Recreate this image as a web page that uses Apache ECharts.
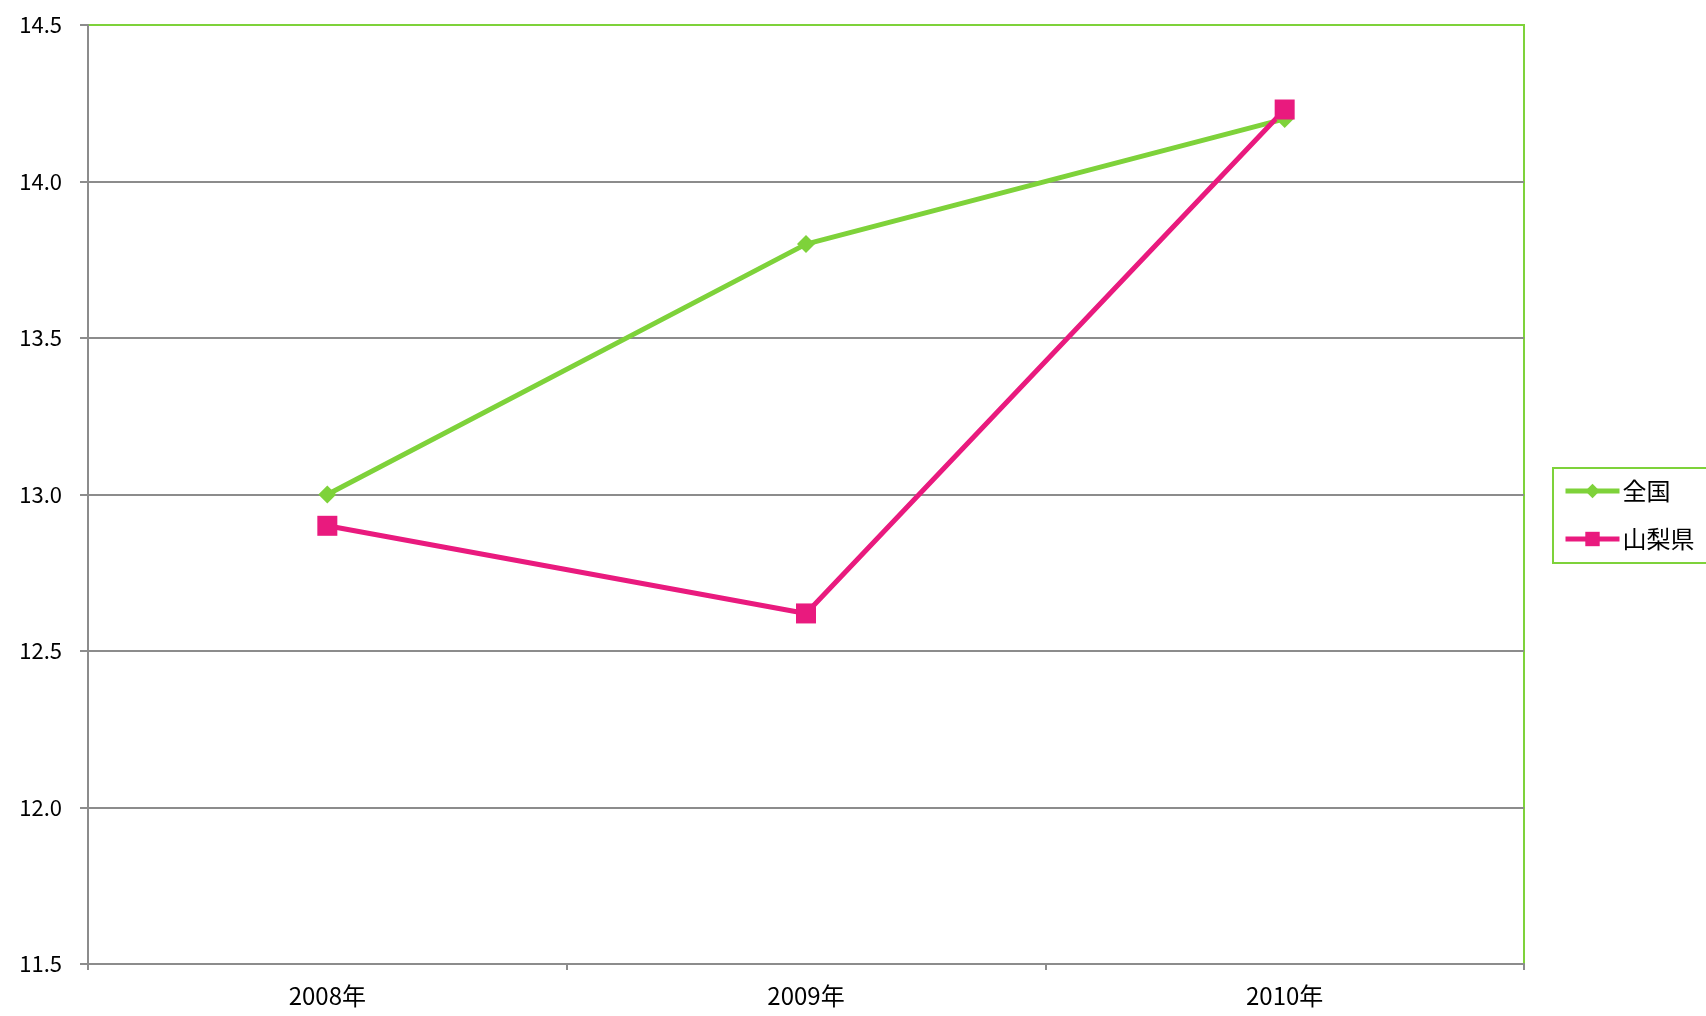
<!DOCTYPE html>
<html>
<head>
<meta charset="utf-8">
<script src="https://cdn.jsdelivr.net/npm/echarts@6/dist/echarts.min.js"></script>
<style>
  html, body { margin: 0; padding: 0; background: #fff; }
  #chart { width: 1706px; height: 1016px; }
</style>
</head>
<body>
<div id="chart"></div>
<script>
// data
var years = ["2008年", "2009年", "2010年"];
var zenkoku = [13.0, 13.8, 14.2];
var yamanashi = [12.9, 12.62, 14.23];
var seriesNames = ["全国", "山梨県"];

var green = "#7ED23A";
var pink = "#E91A7E";
var gray = "#8c8c8c";
var font = "'Noto Sans CJK JP', sans-serif";

var myChart = echarts.init(document.getElementById("chart"));
myChart.setOption({
  animation: false,
  grid: {
    left: 88, right: 182, top: 25, bottom: 52,
    show: true,
    borderColor: green,
    borderWidth: 2
  },
  legend: {
    orient: "vertical",
    left: 1553, top: 468,
    padding: [11, 30, 12, 10],
    itemGap: 24,
    itemWidth: 54, itemHeight: 18,
    borderColor: green,
    borderWidth: 2,
    lineStyle: { width: 5 },
    textStyle: { fontFamily: font, fontSize: 24, color: "#000", padding: [0, 0, 0, -2] },
    data: seriesNames
  },
  xAxis: {
    type: "category",
    data: years,
    boundaryGap: true,
    axisLine: { lineStyle: { color: gray, width: 2 } },
    axisTick: { show: true, length: 6, lineStyle: { color: gray, width: 2 } },
    axisLabel: { color: "#000", fontFamily: font, fontSize: 24, margin: 20 }
  },
  yAxis: {
    type: "value",
    min: 11.5, max: 14.5, interval: 0.5,
    axisLine: { show: true, lineStyle: { color: gray, width: 2 } },
    axisTick: { show: true, length: 8, lineStyle: { color: gray, width: 2 } },
    axisLabel: {
      color: "#000", fontFamily: font, fontSize: 22, margin: 26,
      formatter: function (v) { return v.toFixed(1); }
    },
    splitLine: { showMaxLine: false, lineStyle: { color: gray, width: 2 } }
  },
  series: [
    {
      name: seriesNames[0],
      type: "line",
      data: zenkoku,
      symbol: "diamond",
      symbolSize: 18,
      lineStyle: { color: green, width: 5 },
      itemStyle: { color: green }
    },
    {
      name: seriesNames[1],
      type: "line",
      data: yamanashi,
      symbol: "rect",
      symbolSize: 20,
      lineStyle: { color: pink, width: 5 },
      itemStyle: { color: pink }
    }
  ]
});

window.addEventListener("resize", function () {
  myChart.resize();
});
</script>
</body>
</html>
